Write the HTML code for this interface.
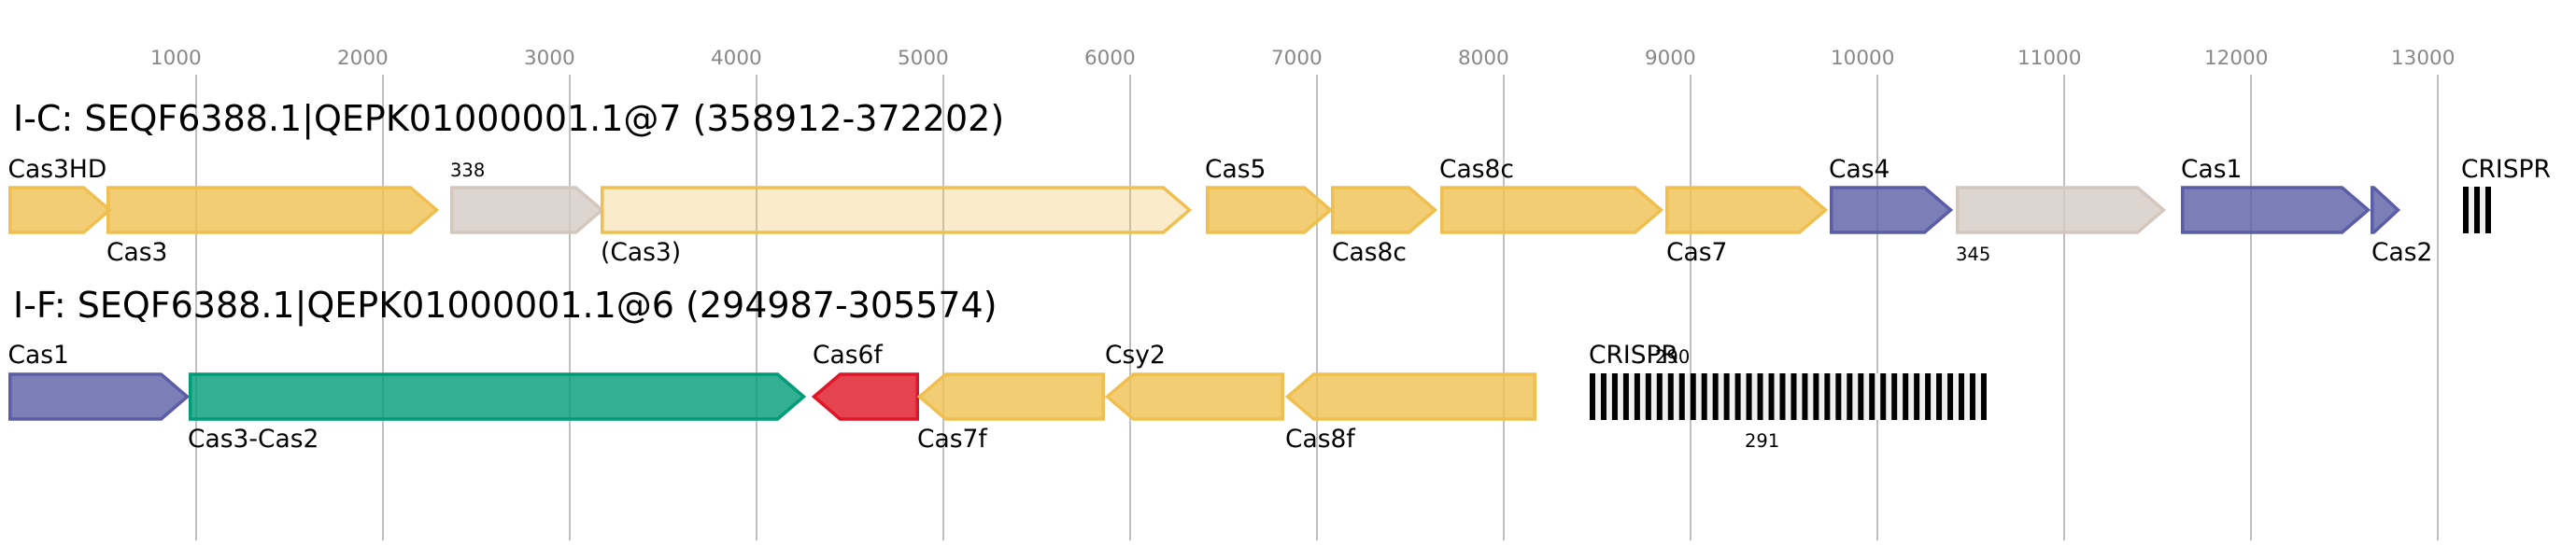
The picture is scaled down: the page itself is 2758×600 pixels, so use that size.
<!DOCTYPE html>
<html>
<head>
<meta charset="utf-8">
<style>
html,body{margin:0;padding:0;background:#fff;}
svg{display:block;}
text{font-family:"DejaVu Sans","Liberation Sans",sans-serif;}
.tick{font-size:21.5px;fill:#888;}
.title{font-size:38px;fill:#000;}
.lab{font-size:26.5px;fill:#000;}
.sm{font-size:19.5px;fill:#000;}
.y{fill:#EFC050;fill-opacity:0.8;stroke:#EFC050;}
.yl{fill:#EFC050;fill-opacity:0.3;stroke:#EFC050;}
.g{fill:#D5CBC3;fill-opacity:0.8;stroke:#D3C8BF;}
.b{fill:#5B5EA6;fill-opacity:0.8;stroke:#5B5EA6;}
.gr{fill:#009B77;fill-opacity:0.8;stroke:#009B77;}
.r{fill:#DF1423;fill-opacity:0.8;stroke:#DF1628;}
polygon{stroke-width:3.5;stroke-linejoin:miter;}
</style>
</head>
<body>
<svg width="2758" height="600" viewBox="0 0 2758 600" xmlns="http://www.w3.org/2000/svg">
<rect x="0" y="0" width="2758" height="600" fill="#fff"/>
<!-- gridlines -->
<g stroke="#c0c0c0" stroke-width="2">
<line x1="210" y1="80" x2="210" y2="579"/>
<line x1="410" y1="80" x2="410" y2="579"/>
<line x1="610" y1="80" x2="610" y2="579"/>
<line x1="810" y1="80" x2="810" y2="579"/>
<line x1="1010" y1="80" x2="1010" y2="579"/>
<line x1="1210" y1="80" x2="1210" y2="579"/>
<line x1="1410" y1="80" x2="1410" y2="579"/>
<line x1="1610" y1="80" x2="1610" y2="579"/>
<line x1="1810" y1="80" x2="1810" y2="579"/>
<line x1="2010" y1="80" x2="2010" y2="579"/>
<line x1="2210" y1="80" x2="2210" y2="579"/>
<line x1="2410" y1="80" x2="2410" y2="579"/>
<line x1="2610" y1="80" x2="2610" y2="579"/>
</g>
<!-- tick labels -->
<text class="tick" x="161" y="69">1000</text>
<text class="tick" x="361" y="69">2000</text>
<text class="tick" x="561" y="69">3000</text>
<text class="tick" x="761" y="69">4000</text>
<text class="tick" x="961" y="69">5000</text>
<text class="tick" x="1161" y="69">6000</text>
<text class="tick" x="1361" y="69">7000</text>
<text class="tick" x="1561" y="69">8000</text>
<text class="tick" x="1761" y="69">9000</text>
<text class="tick" x="1960" y="69">10000</text>
<text class="tick" x="2160" y="69">11000</text>
<text class="tick" x="2360" y="69">12000</text>
<text class="tick" x="2560" y="69">13000</text>

<!-- Row 1 -->
<text class="title" x="14" y="140">I-C: SEQF6388.1|QEPK01000001.1@7 (358912-372202)</text>
<polygon class="y" points="10.75,201 89.5,201 117.5,225 89.5,249 10.75,249"/>
<polygon class="y" points="115.75,201 439.5,201 467.5,225 439.5,249 115.75,249"/>
<polygon class="g" points="483.75,201 616.5,201 644.5,225 616.5,249 483.75,249"/>
<polygon class="yl" points="644.75,201 1245.5,201 1273.5,225 1245.5,249 644.75,249"/>
<polygon class="y" points="1292.75,201 1396.5,201 1424.5,225 1396.5,249 1292.75,249"/>
<polygon class="y" points="1426.75,201 1508.5,201 1536.5,225 1508.5,249 1426.75,249"/>
<polygon class="y" points="1543.75,201 1750.5,201 1778.5,225 1750.5,249 1543.75,249"/>
<polygon class="y" points="1784.75,201 1926.5,201 1954.5,225 1926.5,249 1784.75,249"/>
<polygon class="b" points="1960.75,201 2060.5,201 2088.5,225 2060.5,249 1960.75,249"/>
<polygon class="g" points="2095.75,201 2288.5,201 2316.5,225 2288.5,249 2095.75,249"/>
<polygon class="b" points="2336.75,201 2507.5,201 2535.5,225 2507.5,249 2336.75,249"/>
<polygon class="b" points="2539.75,201 2541.5,201 2567.5,225 2541.5,249 2539.75,249"/>
<rect x="2637" y="200" width="30" height="50" fill="#f0f0f0"/>
<rect x="2637" y="200" width="6" height="50" fill="#000"/>
<rect x="2649" y="200" width="6" height="50" fill="#000"/>
<rect x="2661" y="200" width="6" height="50" fill="#000"/>

<text class="lab" x="8.5" y="190">Cas3HD</text>
<text class="sm" x="482" y="189">338</text>
<text class="lab" x="1290" y="190">Cas5</text>
<text class="lab" x="1541" y="190">Cas8c</text>
<text class="lab" x="1958" y="190">Cas4</text>
<text class="lab" x="2335" y="190">Cas1</text>
<text class="lab" x="2635" y="190">CRISPR</text>

<text class="lab" x="114" y="279">Cas3</text>
<text class="lab" x="643" y="279">(Cas3)</text>
<text class="lab" x="1426" y="279">Cas8c</text>
<text class="lab" x="1784" y="279">Cas7</text>
<text class="sm" x="2094" y="279">345</text>
<text class="lab" x="2539" y="279">Cas2</text>

<!-- Row 2 -->
<text class="title" x="14" y="340">I-F: SEQF6388.1|QEPK01000001.1@6 (294987-305574)</text>
<polygon class="b" points="10.75,401 172.5,401 200.5,425 172.5,449 10.75,449"/>
<polygon class="gr" points="203.75,401 832.5,401 860.5,425 832.5,449 203.75,449"/>
<polygon class="r" points="982.25,401 899.5,401 871.5,425 899.5,449 982.25,449"/>
<polygon class="y" points="1181.25,401 1012.5,401 984.5,425 1012.5,449 1181.25,449"/>
<polygon class="y" points="1373.25,401 1213.5,401 1185.5,425 1213.5,449 1373.25,449"/>
<polygon class="y" points="1643.25,401 1406.5,401 1378.5,425 1406.5,449 1643.25,449"/>
<rect x="1702" y="400" width="425" height="50" fill="#f0f0f0"/>
<g fill="#000">
<rect x="1702" y="400" width="6" height="50"/>
<rect x="1713.97" y="400" width="6" height="50"/>
<rect x="1725.94" y="400" width="6" height="50"/>
<rect x="1737.91" y="400" width="6" height="50"/>
<rect x="1749.88" y="400" width="6" height="50"/>
<rect x="1761.85" y="400" width="6" height="50"/>
<rect x="1773.82" y="400" width="6" height="50"/>
<rect x="1785.79" y="400" width="6" height="50"/>
<rect x="1797.76" y="400" width="6" height="50"/>
<rect x="1809.73" y="400" width="6" height="50"/>
<rect x="1821.7" y="400" width="6" height="50"/>
<rect x="1833.67" y="400" width="6" height="50"/>
<rect x="1845.64" y="400" width="6" height="50"/>
<rect x="1857.61" y="400" width="6" height="50"/>
<rect x="1869.58" y="400" width="6" height="50"/>
<rect x="1881.55" y="400" width="6" height="50"/>
<rect x="1893.52" y="400" width="6" height="50"/>
<rect x="1905.49" y="400" width="6" height="50"/>
<rect x="1917.46" y="400" width="6" height="50"/>
<rect x="1929.43" y="400" width="6" height="50"/>
<rect x="1941.4" y="400" width="6" height="50"/>
<rect x="1953.37" y="400" width="6" height="50"/>
<rect x="1965.34" y="400" width="6" height="50"/>
<rect x="1977.31" y="400" width="6" height="50"/>
<rect x="1989.28" y="400" width="6" height="50"/>
<rect x="2001.25" y="400" width="6" height="50"/>
<rect x="2013.22" y="400" width="6" height="50"/>
<rect x="2025.19" y="400" width="6" height="50"/>
<rect x="2037.16" y="400" width="6" height="50"/>
<rect x="2049.13" y="400" width="6" height="50"/>
<rect x="2061.1" y="400" width="6" height="50"/>
<rect x="2073.07" y="400" width="6" height="50"/>
<rect x="2085.04" y="400" width="6" height="50"/>
<rect x="2097.01" y="400" width="6" height="50"/>
<rect x="2108.98" y="400" width="6" height="50"/>
<rect x="2120.95" y="400" width="6" height="50"/>
</g>

<text class="lab" x="8.5" y="389">Cas1</text>
<text class="lab" x="870" y="389">Cas6f</text>
<text class="lab" x="1183" y="389">Csy2</text>
<text class="lab" x="1701" y="389">CRISPR</text>
<text class="sm" x="1772" y="389">290</text>

<text class="lab" x="201" y="479">Cas3-Cas2</text>
<text class="lab" x="982" y="479">Cas7f</text>
<text class="lab" x="1376" y="479">Cas8f</text>
<text class="sm" x="1868" y="479">291</text>
</svg>
</body>
</html>
